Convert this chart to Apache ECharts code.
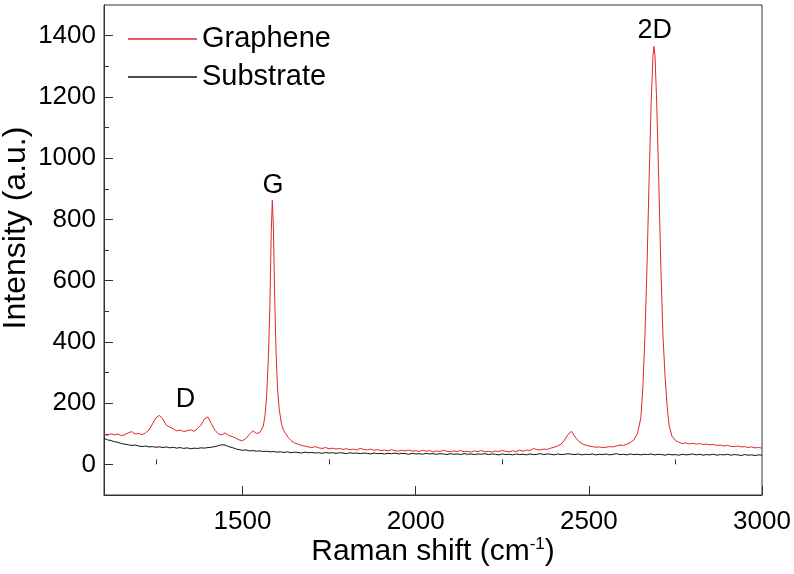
<!DOCTYPE html>
<html>
<head>
<meta charset="utf-8">
<script src="https://cdn.jsdelivr.net/npm/echarts@6/dist/echarts.min.js"></script>
<style>
html,body{margin:0;padding:0;background:#fff;}
#chart{width:794px;height:574px;}
</style>
</head>
<body>
<div id="chart"></div>
<script>
// ---- Data ----
const grapheneX = [
  1100,1110,1120,1130,1140,1150,1160,1170,1180,1190,1200,1210,1220,1230,1240,1250,1260,1270,1280,1290,
  1300,1310,1320,1330,1340,1350,1360,1370,1380,1390,1400,1410,1420,1430,1440,1450,1460,1470,1480,1490,
  1500,1510,1520,1530,1540,
  1545,1550,1555,1560,1565,1570,1575,1579,1583,1586,1589,1593,1597,1601,1606,1612,1618,1625,1632,1640,
  1650,1660,1670,1680,1690,1700,1710,1720,1730,1740,1750,1760,1770,1780,1790,1800,1810,1820,1830,1840,
  1850,1860,1870,1880,1890,1900,1910,1920,1930,1940,1950,1960,1970,1980,1990,2000,2010,2020,2030,2040,
  2050,2060,2070,2080,2090,2100,2110,2120,2130,2140,2150,2160,2170,2180,2190,2200,2210,2220,2230,2240,
  2250,2260,2270,2280,2290,2300,2310,2320,2330,2340,2350,2360,2370,2380,2390,2400,
  2410,2420,2430,2440,2450,2455,2460,2470,2480,2490,2500,2510,2520,2530,2540,2550,2560,2570,2580,2590,
  2600,2610,2620,2630,2640,2650,2656,2662,2668,2674,2680,2685,2688,2691,2696,2702,2708,2714,2720,2726,
  2732,2740,2750,2760,2770,2780,2790,2800,2810,2820,2830,2840,2850,2860,2870,2880,2890,2900,2910,2920,
  2930,2940,2950,2960,2970,2980,2990,3000
];
const grapheneY = [
  98,95,100,96,99,94,97,103,107,99,101,97,103,112,132,152,160,148,128,122,
  116,109,112,107,110,113,108,117,128,148,155,133,112,100,96,103,94,91,86,80,
  77,85,98,110,101,
  99,104,110,125,160,230,360,520,760,862,780,540,360,250,180,135,112,100,88,78,
  70,66,62,60,57,55,58,54,52,55,51,53,50,52,49,51,48,50,47,52,
  49,47,50,46,48,45,47,44,48,45,43,46,44,47,43,45,42,46,43,45,
  41,44,42,46,43,41,44,42,45,41,43,40,44,42,45,41,43,40,44,42,
  45,43,41,44,42,46,43,47,45,52,48,47,50,49,53,56,
  60,66,80,98,108,104,90,76,68,63,60,58,56,57,55,56,58,57,60,63,
  62,66,71,80,100,150,250,420,650,930,1180,1330,1365,1335,1180,920,640,420,290,190,
  125,92,78,72,68,70,67,69,66,68,65,66,64,65,62,63,60,62,59,58,
  60,57,58,55,57,54,55,53
];
const substrateStart = 1100;
const substrateStep = 10;
const substrateY = [
  85,80,78,74,72,68,66,64,62,63,60,58,60,57,58,56,57,55,57,54,
  56,53,55,52,54,51,53,52,54,53,55,56,58,61,64,63,58,55,51,48,
  46,47,44,45,43,44,42,43,41,42,40,41,39,41,38,40,39,37,40,38,
  39,37,38,36,39,37,38,36,38,37,35,38,36,37,35,37,36,34,37,35,
  36,34,36,35,37,34,36,35,33,36,34,35,33,36,34,35,33,35,34,32,
  35,33,34,32,35,33,34,32,34,33,35,32,34,33,31,34,32,33,31,34,
  32,33,31,34,32,33,35,32,34,33,31,34,32,33,35,33,32,34,31,33,
  32,34,31,33,32,34,31,33,35,32,33,31,34,32,33,31,33,32,34,31,
  33,32,30,33,31,32,30,33,31,32,34,31,33,30,32,31,33,30,32,31,
  33,30,32,31,29,32,30,31,29,31,30
];
const peakNames = ['D', 'G', '2D'];
const peakX = [1335, 1588, 2690];
const peakY = [213, 912, 1418];
const xMajorTicks = [1500, 2000, 2500, 3000];
const xMinorTicks = [1250, 1750, 2250, 2750];
const yMajorTicks = [0, 200, 400, 600, 800, 1000, 1200, 1400];
const yMinorTicks = [100, 300, 500, 700, 900, 1100, 1300];

// ---- Build series data ----
const grapheneData = grapheneX.map((x, i) => [x, grapheneY[i]]);
const substrateData = substrateY.map((y, i) => [substrateStart + substrateStep * i, y]);
const peakData = peakNames.map((n, i) => ({ name: n, value: [peakX[i], peakY[i]] }));

const FONT = '"Liberation Sans", Arial, sans-serif';
const AXIS_COLOR = '#333';
const plain = v => String(v);

const chart = echarts.init(document.getElementById('chart'), null, { renderer: 'canvas' });
chart.setOption({
  animation: false,
  backgroundColor: '#fff',
  grid: {
    left: 104, right: 32, top: 5, bottom: 79,
    containLabel: false, outerBoundsMode: 'none',
    show: true, borderColor: AXIS_COLOR, borderWidth: 1, backgroundColor: 'transparent'
  },
  legend: {
    orient: 'vertical',
    left: 128, top: 23,
    padding: 0,
    icon: 'rect',
    itemWidth: 69, itemHeight: 1.3, itemGap: 6,
    data: ['Graphene', 'Substrate'],
    textStyle: { fontFamily: FONT, fontSize: 29, color: '#000', lineHeight: 32 }
  },
  xAxis: [{
    type: 'value', min: 1100, max: 3000,
    name: '{a|Raman shift (cm}{s|-1}{a|)}',
    nameLocation: 'middle', nameGap: 41, nameMoveOverlap: false,
    nameTextStyle: {
      rich: {
        a: { fontFamily: FONT, fontSize: 30, color: '#000' },
        s: { fontFamily: FONT, fontSize: 17, color: '#000', verticalAlign: 'top', padding: [0, 0, 15, 0] }
      }
    },
    splitLine: { show: false },
    axisLine: { show: true, onZero: false, lineStyle: { color: AXIS_COLOR, width: 1 } },
    axisTick: { show: true, inside: true, length: 9, customValues: xMajorTicks, lineStyle: { color: AXIS_COLOR } },
    axisLabel: { show: true, customValues: xMajorTicks, formatter: plain, margin: 14, fontFamily: FONT, fontSize: 26, color: '#000' }
  }, {
    type: 'value', min: 1100, max: 3000, position: 'bottom',
    splitLine: { show: false },
    axisLine: { show: false },
    axisTick: { show: true, inside: true, length: 5, customValues: xMinorTicks, lineStyle: { color: AXIS_COLOR } },
    axisLabel: { show: false }
  }],
  yAxis: [{
    type: 'value', min: -100, max: 1500,
    name: 'Intensity (a.u.)',
    nameLocation: 'middle', nameGap: 72, nameMoveOverlap: false,
    nameTextStyle: { fontFamily: FONT, fontSize: 32, color: '#000', padding: [0, 0, 0, 44] },
    splitLine: { show: false },
    axisLine: { show: true, onZero: false, lineStyle: { color: AXIS_COLOR, width: 1 } },
    axisTick: { show: true, inside: true, length: 9, customValues: yMajorTicks, lineStyle: { color: AXIS_COLOR } },
    axisLabel: { show: true, customValues: yMajorTicks, formatter: plain, margin: 8, fontFamily: FONT, fontSize: 26, color: '#000' }
  }, {
    type: 'value', min: -100, max: 1500, position: 'left', offset: 0,
    splitLine: { show: false },
    axisLine: { show: false },
    axisTick: { show: true, inside: true, length: 5, customValues: yMinorTicks, lineStyle: { color: AXIS_COLOR } },
    axisLabel: { show: false }
  }],
  series: [{
    name: 'Substrate', type: 'line', data: substrateData,
    xAxisIndex: 0, yAxisIndex: 0,
    symbol: 'none', lineStyle: { color: '#111', width: 1 }, itemStyle: { color: '#111' }
  }, {
    name: 'Graphene', type: 'line', data: grapheneData,
    xAxisIndex: 0, yAxisIndex: 0,
    symbol: 'none', lineStyle: { color: '#e3262b', width: 1 }, itemStyle: { color: '#e3262b' }
  }, {
    name: 'peaks', type: 'scatter', data: peakData,
    xAxisIndex: 0, yAxisIndex: 0,
    symbolSize: 0, silent: true, itemStyle: { opacity: 1 },
    label: { show: true, position: 'inside', formatter: p => p.name, fontFamily: FONT, fontSize: 27, color: '#000', opacity: 1, textBorderWidth: 0 }
  }]
});
</script>
</body>
</html>
